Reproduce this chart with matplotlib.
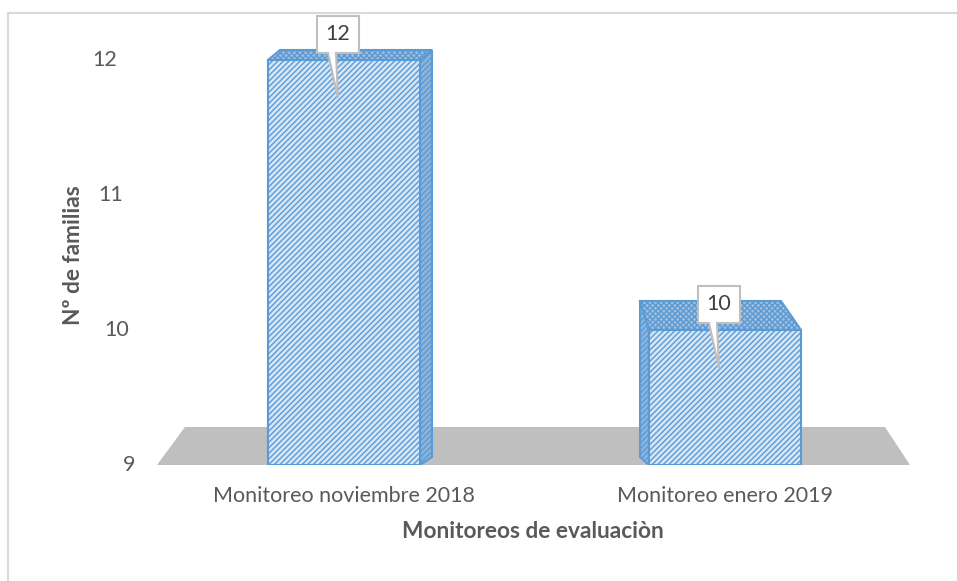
import matplotlib.pyplot as plt
import numpy as np
from matplotlib.patches import Polygon
from matplotlib.lines import Line2D

plt.rcParams['font.family'] = ['Lato', 'DejaVu Sans']
plt.rcParams['hatch.linewidth'] = 1.0

# datos
categorias = ['Monitoreo noviembre 2018', 'Monitoreo enero 2019']
familias = [12, 10]
y_ticks = [9, 10, 11, 12]
base = 9

gris = '#595959'
azul = '#5b9bd5'

fig = plt.figure(figsize=(9.57, 5.81), dpi=100)
W, H = 957, 581

# borde del area del grafico (solo arriba e izquierda visibles)
fig.add_artist(Line2D([8 / W, 8 / W], [0, 1 - 13 / H], color='#d9d9d9', lw=1.5))
fig.add_artist(Line2D([8 / W, 1], [1 - 13 / H, 1 - 13 / H], color='#d9d9d9', lw=1.5))

# ejes: 9 -> y=465 px, 12 -> y=60 px ; centros de barra en x=344 y 725 px
px_x = 381.0   # px por unidad x
px_y = 135.0   # px por unidad y
left_px, right_px = 157, 910
bottom_px, top_px = 465, 19
ax = fig.add_axes([left_px / W, 1 - bottom_px / H,
                   (right_px - left_px) / W, (bottom_px - top_px) / H])
ax.set_xlim((left_px - 344) / px_x, (right_px - 344) / px_x)
ax.set_ylim(base, base + (bottom_px - top_px) / px_y)
ax.axis('off')


def dx(p):
    return p / px_x


def dy(p):
    return p / px_y


x = np.arange(len(categorias))
ancho = 152 / px_x

# piso gris
x0, x1 = ax.get_xlim()
piso = Polygon([(x0, base), (x0 + dx(28), base + dy(38)), (x1 - dx(25), base + dy(38)),
                (x1, base)], closed=True, facecolor='#bfbfbf', edgecolor='none', zorder=1)
ax.add_patch(piso)

# caras laterales y superiores (efecto 3D)
profundidad = [(12, 10), (-9, 29)]
for xi, v, (ddx, ddy) in zip(x, familias, profundidad):
    l, r = xi - ancho / 2, xi + ancho / 2
    ox, oy = dx(ddx), dy(ddy)
    if ddx > 0:
        lado = [(r, base), (r + ox, base + dy(8)), (r + ox, v + oy), (r, v)]
    else:
        lado = [(l, base), (l + ox, base + dy(8)), (l + ox, v + oy), (l, v)]
    ax.add_patch(Polygon(lado, closed=True, facecolor='#8fb4d9', edgecolor=azul,
                         hatch='//////', lw=1.5, zorder=2))
    if ddx > 0:
        arriba = [(l, v), (l + ox, v + oy), (r + ox, v + oy), (r, v)]
    else:
        arriba = [(l, v), (l + ox, v + oy), (r + ox - dx(11), v + oy), (r, v)]
    ax.add_patch(Polygon(arriba, closed=True, facecolor='#a3bfdc', edgecolor=azul,
                         hatch='xxxxxx', lw=1.5, zorder=2))

# caras frontales
ax.bar(x, np.array(familias) - base, bottom=base, width=ancho, color='#d6e6f5',
       edgecolor=azul, hatch='//////', linewidth=1.5, zorder=3)

# etiquetas de datos tipo llamada
for xi, v in zip(x, familias):
    cx = xi - dx(6)
    bw, bh = dx(21), dy(37)
    yb = v + dy(7)
    forma = [(cx - bw, yb), (cx - dx(10), yb), (cx, v - dy(38)), (cx - dx(2), yb),
             (cx + bw, yb), (cx + bw, yb + bh), (cx - bw, yb + bh)]
    ax.add_patch(Polygon(forma, closed=True, facecolor='white', edgecolor='#bfbfbf',
                         lw=1.5, zorder=5, clip_on=False))
    ax.text(cx, yb + bh / 2, str(v), ha='center', va='center', fontsize=15.5,
            color='#404040', zorder=6)

# etiquetas del eje y (con desplazamiento de perspectiva)
desplaz = {9: 135, 10: 129, 11: 123, 12: 117}
for t in y_ticks:
    xp = desplaz[t]
    ax.text(dx(xp - 344), t, str(t), ha='right', va='center', fontsize=15.5,
            color=gris, clip_on=False)

# etiquetas de categorias
for xi, c in zip(x, categorias):
    ax.text(xi, base - dy(31), c, ha='center', va='center', fontsize=15.5,
            color=gris, clip_on=False)

fig.text(533 / W, 1 - 532 / H, 'Monitoreos de evaluaciòn', ha='center', va='center',
         fontsize=16.3, fontweight='bold', color=gris)
fig.text(74 / W, 1 - 255 / H, 'Nº de familias', ha='center', va='center',
         rotation=90, fontsize=16.3, fontweight='bold', color=gris)

fig.savefig('out.png', dpi=100)
